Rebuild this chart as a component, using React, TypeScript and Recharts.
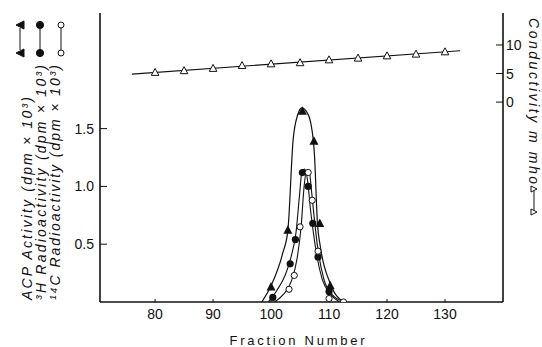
import React from 'react';
import {
  ComposedChart,
  Line,
  Scatter,
  XAxis,
  YAxis,
} from 'recharts';

// ---- data ----
const fractionTicks = [80, 90, 100, 110, 120, 130];
const activityTicks = [0.5, 1.0, 1.5];
const conductivityTicks = [0, 5, 10];

// measured points (fraction, dpm x 10^3)
const acpPoints = [
  { x: 100, y: 0.13 },
  { x: 102.9, y: 0.62 },
  { x: 105.4, y: 1.65 },
  { x: 107.4, y: 1.39 },
  { x: 108.4, y: 0.68 },
  { x: 110.2, y: 0.14 },
];
const h3Points = [
  { x: 100.3, y: 0.04 },
  { x: 103.3, y: 0.33 },
  { x: 104.2, y: 0.54 },
  { x: 105.4, y: 1.12 },
  { x: 106.4, y: 1.0 },
  { x: 107.2, y: 0.68 },
  { x: 108.1, y: 0.39 },
  { x: 110.0, y: 0.09 },
];
const c14Points = [
  { x: 103.1, y: 0.11 },
  { x: 104.0, y: 0.23 },
  { x: 105.0, y: 0.65 },
  { x: 106.4, y: 1.12 },
  { x: 107.1, y: 0.88 },
  { x: 108.1, y: 0.44 },
  { x: 110.0, y: 0.03 },
  { x: 112.5, y: 0.0 },
];

// hand-drawn fit curves
const acpCurve = [
  { x: 98.4, y: 0 },
  { x: 100, y: 0.14 },
  { x: 102, y: 0.42 },
  { x: 102.9, y: 0.62 },
  { x: 103.8, y: 1.4 },
  { x: 104.6, y: 1.62 },
  { x: 105.3, y: 1.68 },
  { x: 106.2, y: 1.64 },
  { x: 106.8, y: 1.56 },
  { x: 107.5, y: 1.26 },
  { x: 108.0, y: 0.68 },
  { x: 108.5, y: 0.48 },
  { x: 110.2, y: 0.16 },
  { x: 112.5, y: 0 },
];
const h3Curve = [
  { x: 99.5, y: 0 },
  { x: 101, y: 0.1 },
  { x: 102.5, y: 0.24 },
  { x: 103.5, y: 0.4 },
  { x: 104.3, y: 0.6 },
  { x: 104.9, y: 0.92 },
  { x: 105.3, y: 1.12 },
  { x: 105.8, y: 1.15 },
  { x: 106.3, y: 1.05 },
  { x: 106.8, y: 0.8 },
  { x: 107.3, y: 0.6 },
  { x: 107.9, y: 0.4 },
  { x: 108.8, y: 0.2 },
  { x: 110.2, y: 0.07 },
  { x: 111.8, y: 0 },
];
const c14Curve = [
  { x: 100.6, y: 0 },
  { x: 102, y: 0.06 },
  { x: 103.5, y: 0.18 },
  { x: 104.5, y: 0.38 },
  { x: 105.2, y: 0.66 },
  { x: 105.7, y: 1.0 },
  { x: 106.1, y: 1.13 },
  { x: 106.6, y: 1.12 },
  { x: 107.0, y: 0.95 },
  { x: 107.5, y: 0.7 },
  { x: 108.1, y: 0.45 },
  { x: 109.1, y: 0.2 },
  { x: 110.6, y: 0.06 },
  { x: 112.8, y: 0 },
];

// conductivity (m mho)
const conductivityPoints = [
  { x: 80, y: 5.2 },
  { x: 85, y: 5.5 },
  { x: 90, y: 5.9 },
  { x: 95, y: 6.4 },
  { x: 100, y: 6.7 },
  { x: 105, y: 6.9 },
  { x: 110, y: 7.4 },
  { x: 115, y: 7.7 },
  { x: 120, y: 8.1 },
  { x: 125, y: 8.4 },
  { x: 130, y: 8.8 },
];
const conductivityFit = [
  { x: 76, y: 4.9 },
  { x: 132.6, y: 9.0 },
];

const INK = '#111';
const tickFont = { fontFamily: '"Liberation Sans", Arial, sans-serif', fontSize: 14, fill: INK };
const labelFont = '"Liberation Sans", Arial, sans-serif';

const FilledTriangle = (p: any) => (
  <path
    d={`M${p.cx},${p.cy - 5} L${p.cx + 4.5},${p.cy + 3.5} L${p.cx - 4.5},${p.cy + 3.5} Z`}
    fill={INK}
  />
);
const OpenTriangle = (p: any) => (
  <path
    d={`M${p.cx},${p.cy - 4} L${p.cx + 3.8},${p.cy + 3} L${p.cx - 3.8},${p.cy + 3} Z`}
    fill="#fff"
    stroke={INK}
    strokeWidth={1}
  />
);
const FilledCircle = (p: any) => <circle cx={p.cx} cy={p.cy} r={3.6} fill={INK} />;
const OpenCircle = (p: any) => (
  <circle cx={p.cx} cy={p.cy} r={3.1} fill="#fff" stroke={INK} strokeWidth={1} />
);

const Labels = () => (
  <svg
    width={542}
    height={347}
    style={{ position: 'absolute', left: 0, top: 0, pointerEvents: 'none' }}
  >
    <g fontFamily={labelFont} fontStyle="italic" fontSize={14} fill={INK}>
      <text transform="translate(32,300) rotate(-90)" textLength={203} lengthAdjust="spacing">
        ACP Activity (dpm × 10³)
      </text>
      <text transform="translate(46,300) rotate(-90)" textLength={235} lengthAdjust="spacing">
        ³H Radioactivity (dpm × 10³)
      </text>
      <text transform="translate(60,300) rotate(-90)" textLength={235} lengthAdjust="spacing">
        ¹⁴C Radioactivity (dpm × 10³)
      </text>
      <text transform="translate(529,18) rotate(90)" textLength={166} lengthAdjust="spacing">
        Conductivity m mho
      </text>
    </g>
    {/* legend keys */}
    <g stroke={INK} strokeWidth={1}>
      <line x1={20} y1={28} x2={20} y2={50} />
      <path d="M16,25 L24,21 L24,29 Z" fill={INK} />
      <path d="M16,53 L24,49 L24,57 Z" fill={INK} />
      <line x1={40} y1={28} x2={40} y2={50} />
      <circle cx={40} cy={25} r={3.6} fill={INK} />
      <circle cx={40} cy={53} r={3.6} fill={INK} />
      <line x1={61} y1={28} x2={61} y2={50} />
      <circle cx={61} cy={25} r={3} fill="#fff" />
      <circle cx={61} cy={53} r={3} fill="#fff" />
      <line x1={534} y1={191} x2={534} y2={210} />
      <path d="M537,189 L531,186 L531,192 Z" fill="#fff" />
      <path d="M537,212 L531,209 L531,215 Z" fill="#fff" />
    </g>
    <text
      x={297}
      y={345}
      textAnchor="middle"
      fontFamily={labelFont}
      fontSize={13}
      fill={INK}
      textLength={135}
      lengthAdjust="spacing"
    >
      Fraction Number
    </text>
  </svg>
);

export default function App() {
  return (
    <div
      style={{
        position: 'absolute',
        left: 0,
        top: 0,
        width: 542,
        height: 347,
        background: '#fff',
      }}
    >
      <ComposedChart
        width={542}
        height={347}
        margin={{ top: 13, right: 0, bottom: 0, left: 0 }}
      >
        <XAxis
          type="number"
          dataKey="x"
          domain={[70.5, 140]}
          ticks={fractionTicks}
          allowDataOverflow
          height={45}
          tick={tickFont}
          tickSize={-3}
          tickMargin={10}
          tickLine={{ stroke: INK }}
          axisLine={{ stroke: INK, strokeWidth: 1.6 }}
        />
        <YAxis
          yAxisId="left"
          type="number"
          dataKey="y"
          domain={[0, 2.5]}
          ticks={activityTicks}
          allowDataOverflow
          width={100}
          tick={tickFont}
          tickFormatter={(v: number) => v.toFixed(1)}
          tickSize={-7}
          tickMargin={13}
          tickLine={{ stroke: INK }}
          axisLine={{ stroke: INK, strokeWidth: 1.6 }}
        />
        <YAxis
          yAxisId="right"
          orientation="right"
          type="number"
          dataKey="y"
          domain={[-35, 15.6]}
          ticks={conductivityTicks}
          allowDataOverflow
          width={39}
          tick={tickFont}
          tickSize={-7}
          tickMargin={10}
          tickLine={{ stroke: INK }}
          axisLine={{ stroke: INK, strokeWidth: 1.6 }}
        />

        <Line
          yAxisId="left"
          data={acpCurve}
          dataKey="y"
          type="monotone"
          stroke={INK}
          strokeWidth={1.2}
          dot={false}
          isAnimationActive={false}
        />
        <Line
          yAxisId="left"
          data={h3Curve}
          dataKey="y"
          type="monotone"
          stroke={INK}
          strokeWidth={1.1}
          dot={false}
          isAnimationActive={false}
        />
        <Line
          yAxisId="left"
          data={c14Curve}
          dataKey="y"
          type="monotone"
          stroke={INK}
          strokeWidth={1.1}
          dot={false}
          isAnimationActive={false}
        />
        <Line
          yAxisId="right"
          data={conductivityFit}
          dataKey="y"
          type="linear"
          stroke={INK}
          strokeWidth={1.1}
          dot={false}
          isAnimationActive={false}
        />

        <Scatter yAxisId="left" data={acpPoints} dataKey="y" shape={FilledTriangle} isAnimationActive={false} />
        <Scatter yAxisId="left" data={h3Points} dataKey="y" shape={FilledCircle} isAnimationActive={false} />
        <Scatter yAxisId="left" data={c14Points} dataKey="y" shape={OpenCircle} isAnimationActive={false} />
        <Scatter
          yAxisId="right"
          data={conductivityPoints}
          dataKey="y"
          shape={OpenTriangle}
          isAnimationActive={false}
        />
      </ComposedChart>
      <Labels />
    </div>
  );
}
